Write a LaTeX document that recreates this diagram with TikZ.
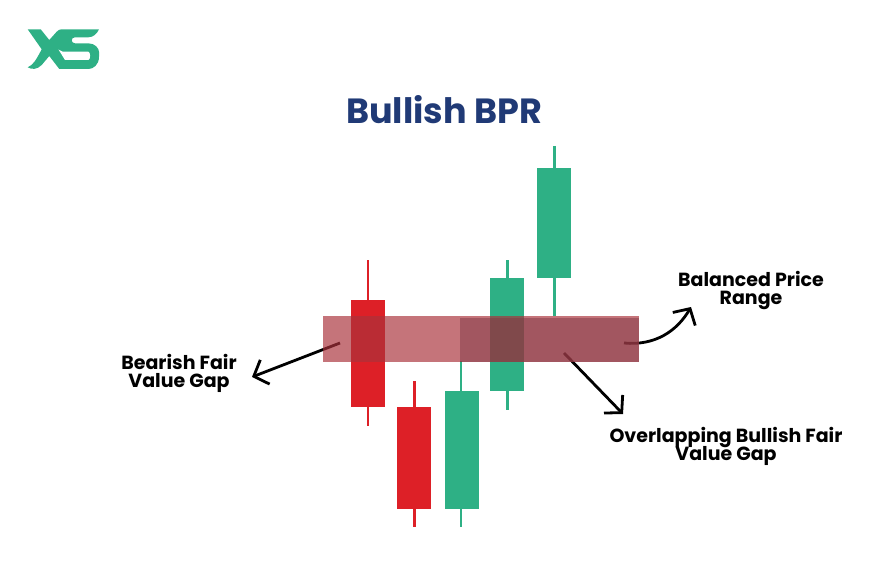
\documentclass[tikz,border=0pt]{standalone}
\usepackage{fontspec}
\setmainfont{Poppins}
\usepackage{tikz}
\usetikzlibrary{positioning, arrows.meta}
\definecolor{xsgreen}{RGB}{46,176,133}
\definecolor{xsred}{RGB}{221,32,39}
\definecolor{xsblue}{RGB}{32,58,118}
\definecolor{gapred}{RGB}{170,50,59}
\definecolor{gapdark}{RGB}{127,58,70}
\tikzset{
	body/.style={draw=none, inner sep=0pt, minimum width=34pt},
	wick/.style={line width=2.2pt},
	gap/.style={draw=none, inner sep=0pt, anchor=north west},
	label/.style={font=\bfseries\fontsize{19}{18}\selectfont\lineskiplimit -20pt, align=center, text=black},
	pointer/.style={line width=2.8pt, -{Straight Barb[length=12pt, width=26pt, line width=2.8pt]}}
}

\begin{document}
\begin{tikzpicture}[x=1pt, y=-1pt]
	\useasboundingbox (0, 0) rectangle (888, 577);

	% logo
	\fill[xsgreen] (27.7, 29.3) -- (40.7, 29.3) -- (49.3, 40) -- (56.7, 31.7) .. controls (58, 30) and (60, 29.3) .. (61.7, 29.3) -- (99, 29.3) .. controls (97, 34) and (93, 37.3) .. (88.3, 37.3) -- (75, 37.3) .. controls (70.7, 37.3) and (70.7, 43.3) .. (75, 43.3) -- (88.3, 43.3) .. controls (95, 43.3) and (99, 48.3) .. (99, 52) -- (99, 56.7) .. controls (99, 65) and (93.3, 69) .. (88.3, 69) -- (59.3, 69) -- (49.3, 56) -- (41.7, 65) .. controls (36.7, 70) and (31.7, 69.5) .. (27.7, 67.3) .. controls (33.3, 65) and (36, 60) .. (41.7, 49.3) -- cycle;
	\fill[white] (58.5, 49.5) -- (62.7, 51.7) -- (88.3, 51.7) .. controls (90.7, 51.7) and (90.7, 60) .. (88.3, 60) -- (65, 60) -- cycle;

	\node[font=\bfseries\fontsize{35}{38}\selectfont, text=xsblue] at (444, 110) (title) {Bullish BPR};

	% candles
	\node[body, fill=xsred, minimum height=107pt] at (368, 353.5) (redA) {};
	\node[body, fill=xsred, minimum height=102pt] at (413.5, 458) (redB) {};
	\node[body, fill=xsgreen, minimum height=118pt] at (462, 450) (greenA) {};
	\node[body, fill=xsgreen, minimum height=113pt] at (506.5, 334.5) (greenB) {};
	\node[body, fill=xsgreen, minimum height=110pt] at (553.5, 223) (greenC) {};

	\coordinate (redAtop) at (368, 260);
	\coordinate (redAbot) at (368, 426);
	\coordinate (redBtop) at (414.5, 381);
	\coordinate (redBbot) at (414.5, 527);
	\coordinate (greenAtop) at (461, 361);
	\coordinate (greenAbot) at (461, 527);
	\coordinate (greenBtop) at (507.5, 260);
	\coordinate (greenBbot) at (507.5, 410);
	\coordinate (greenCtop) at (554.5, 146);
	\coordinate (greenCbot) at (554.5, 316);

	\draw[wick, xsred]
	(redAtop) -- (redAbot)
	(redBtop) -- (redBbot);
	\draw[wick, xsgreen]
	(greenAtop) -- (greenAbot)
	(greenBtop) -- (greenBbot)
	(greenCtop) -- (greenCbot);

	% labels and their arrows
	\node[label] at (179, 373) (bearish) {Bearish Fair\\Value Gap};
	\node[label] at (751, 290.5) (balanced) {Balanced Price\\Range};
	\node[label] at (726, 446) (overlap) {Overlapping Bullish Fair\\Value Gap};

	\coordinate (bearishtail) at (340, 343);
	\coordinate (bearishtip) at (252, 377);
	\coordinate (balancedtail) at (624, 343);
	\coordinate (balancedtip) at (691, 307);
	\coordinate (overlaptail) at (564, 353);
	\coordinate (overlaptip) at (623, 414);

	\draw[pointer] (bearishtail) -- (bearishtip);
	\draw[pointer] (overlaptail) -- (overlaptip);
	\draw[pointer] (balancedtail) .. controls (655, 346) and (677, 331) .. (balancedtip);

	% gaps go over everything else
	\node[gap, fill=gapred, fill opacity=0.68, minimum width=316pt, minimum height=46pt] at (323, 316) (bearishgap) {};
	\node[gap, fill=gapdark, fill opacity=0.5, minimum width=179pt, minimum height=44pt] at (460, 318) (bullishgap) {};
\end{tikzpicture}
\end{document}
